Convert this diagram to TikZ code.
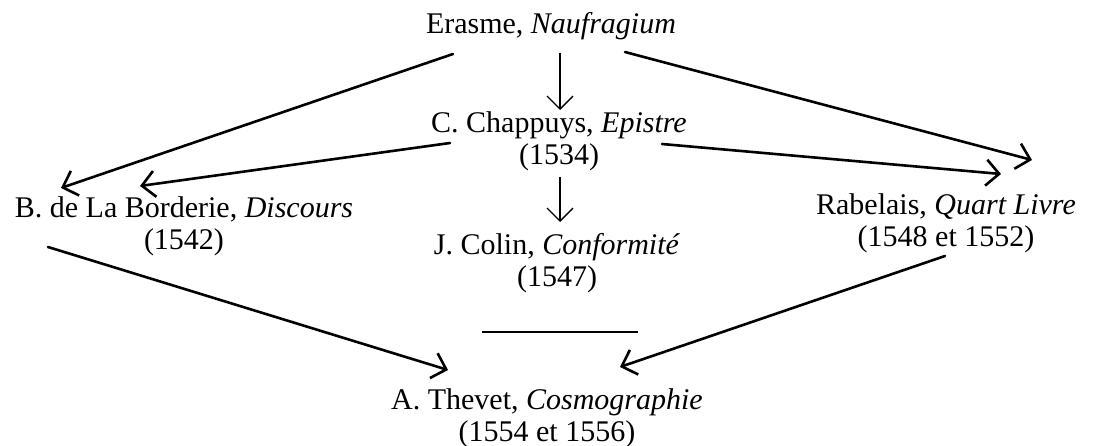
\documentclass[tikz,border=0pt]{standalone}
\usepackage{fontspec}
\setmainfont{Liberation Serif}
\usetikzlibrary{arrows.meta}

\begin{document}
\begin{tikzpicture}
            [x=1pt,y=-1pt,every node/.style={align=center,inner sep=0pt,font=\fontsize{30}{32}\selectfont},
            link/.style={line width=2.6pt,line cap=round,-{Straight Barb[length=13pt,width=26pt]}},
            down/.style={line width=1.4pt,-{Straight Barb[length=13pt,width=26pt]}}]
            \useasboundingbox (0,0) rectangle (1096,446);
            \node (erasme) at (551,26) {Erasme, \emph{Naufragium}};
            \node (chappuys) at (559,141) {C. Chappuys, \emph{Epistre}\\(1534)};
            \node (borderie) at (184,226) {B. de La Borderie, \emph{Discours}\\(1542)};
            \node (colin) at (557,263) {J. Colin, \emph{Conformité}\\(1547)};
            \node (rabelais) at (946,223) {Rabelais, \emph{Quart Livre}\\(1548 et 1552)};
            \node (thevet) at (547,418) {A. Thevet, \emph{Cosmographie}\\(1554 et 1556)};
            % from Erasme
            \draw[link] ([shift={(-98,28)}]erasme.center) -- ([shift={(-123,-38)}]borderie.center);
            \draw[down] ([shift={(9,27)}]erasme.center) -- ([shift={(1,-31)}]chappuys.center);
            \draw[link] ([shift={(74,26)}]erasme.center) -- ([shift={(86,-63)}]rabelais.center);
            % from Chappuys
            \draw[link] ([shift={(-109,2)}]chappuys.center) -- ([shift={(-44,-40)}]borderie.center);
            \draw[link] ([shift={(103,3)}]chappuys.center) -- ([shift={(55,-49)}]rabelais.center);
            \draw[down] ([shift={(1,36)}]chappuys.center) -- ([shift={(3,-41)}]colin.center);
            % to Thevet
            \draw[link] ([shift={(-136,21)}]borderie.center) -- ([shift={(-99,-48)}]thevet.center);
            \draw[link] ([shift={(-1,33)}]rabelais.center) -- ([shift={(73,-51)}]thevet.center);
            \draw[line width=2pt] (482,332) -- (638,332);
        \end{tikzpicture}
\end{document}
